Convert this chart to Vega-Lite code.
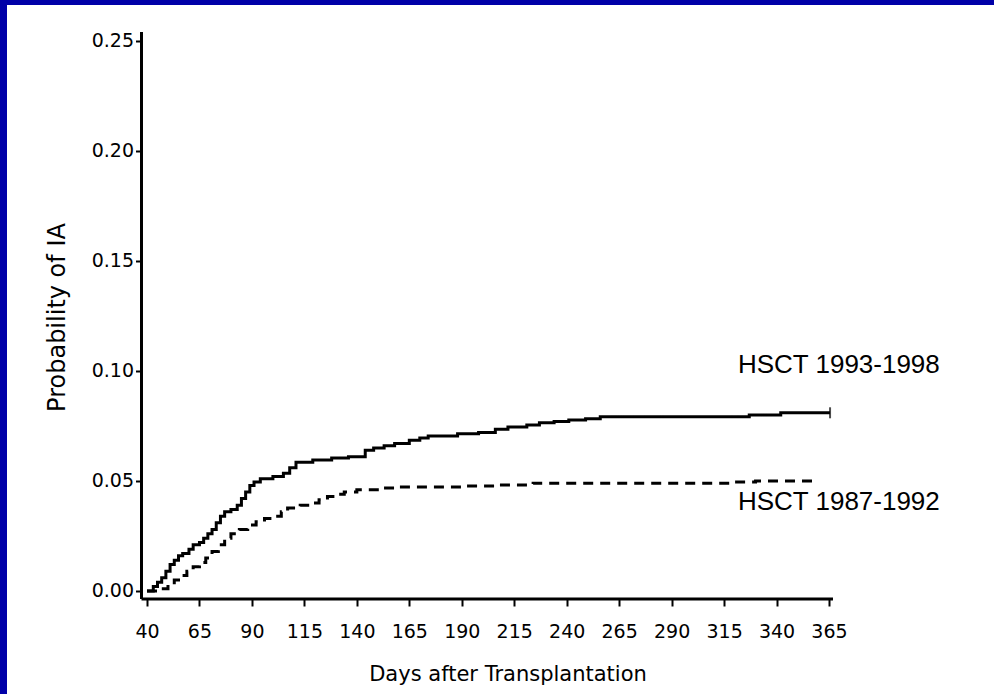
{
  "$schema": "https://vega.github.io/schema/vega-lite/v6.json",
  "width": 987,
  "height": 689,
  "autosize": {"type": "none"},
  "padding": {"left": 7, "top": 5, "right": 0, "bottom": 0},
  "background": "#0000A8",
  "config": {
    "view": {"fill": "white", "stroke": null},
    "axis": {
      "grid": false,
      "domain": false,
      "tickColor": "black",
      "tickWidth": 2,
      "labelColor": "black",
      "labelFont": "DejaVu Sans",
      "labelFontSize": 19,
      "labelOverlap": false,
      "labelFlush": false,
      "titleColor": "black",
      "titleFont": "DejaVu Sans",
      "titleFontSize": 21,
      "titleFontWeight": "normal"
    }
  },
  "datasets": {
    "km": [
      {"day": 40, "p": 0, "group": "HSCT 1993-1998"},
      {"day": 43, "p": 0.002, "group": "HSCT 1993-1998"},
      {"day": 45, "p": 0.004, "group": "HSCT 1993-1998"},
      {"day": 47, "p": 0.006, "group": "HSCT 1993-1998"},
      {"day": 49, "p": 0.009, "group": "HSCT 1993-1998"},
      {"day": 51, "p": 0.012, "group": "HSCT 1993-1998"},
      {"day": 53, "p": 0.014, "group": "HSCT 1993-1998"},
      {"day": 55, "p": 0.016, "group": "HSCT 1993-1998"},
      {"day": 57, "p": 0.017, "group": "HSCT 1993-1998"},
      {"day": 60, "p": 0.019, "group": "HSCT 1993-1998"},
      {"day": 62, "p": 0.021, "group": "HSCT 1993-1998"},
      {"day": 65, "p": 0.022, "group": "HSCT 1993-1998"},
      {"day": 67, "p": 0.024, "group": "HSCT 1993-1998"},
      {"day": 69, "p": 0.026, "group": "HSCT 1993-1998"},
      {"day": 71, "p": 0.028, "group": "HSCT 1993-1998"},
      {"day": 73, "p": 0.031, "group": "HSCT 1993-1998"},
      {"day": 75, "p": 0.034, "group": "HSCT 1993-1998"},
      {"day": 77, "p": 0.036, "group": "HSCT 1993-1998"},
      {"day": 80, "p": 0.037, "group": "HSCT 1993-1998"},
      {"day": 83, "p": 0.039, "group": "HSCT 1993-1998"},
      {"day": 85, "p": 0.042, "group": "HSCT 1993-1998"},
      {"day": 87, "p": 0.045, "group": "HSCT 1993-1998"},
      {"day": 89, "p": 0.048, "group": "HSCT 1993-1998"},
      {"day": 91, "p": 0.0495, "group": "HSCT 1993-1998"},
      {"day": 94, "p": 0.051, "group": "HSCT 1993-1998"},
      {"day": 100, "p": 0.052, "group": "HSCT 1993-1998"},
      {"day": 105, "p": 0.0535, "group": "HSCT 1993-1998"},
      {"day": 108, "p": 0.056, "group": "HSCT 1993-1998"},
      {"day": 111, "p": 0.0585, "group": "HSCT 1993-1998"},
      {"day": 119, "p": 0.0595, "group": "HSCT 1993-1998"},
      {"day": 128, "p": 0.0605, "group": "HSCT 1993-1998"},
      {"day": 136, "p": 0.061, "group": "HSCT 1993-1998"},
      {"day": 144, "p": 0.064, "group": "HSCT 1993-1998"},
      {"day": 148, "p": 0.065, "group": "HSCT 1993-1998"},
      {"day": 153, "p": 0.066, "group": "HSCT 1993-1998"},
      {"day": 158, "p": 0.067, "group": "HSCT 1993-1998"},
      {"day": 165, "p": 0.0685, "group": "HSCT 1993-1998"},
      {"day": 170, "p": 0.0695, "group": "HSCT 1993-1998"},
      {"day": 174, "p": 0.0705, "group": "HSCT 1993-1998"},
      {"day": 188, "p": 0.0715, "group": "HSCT 1993-1998"},
      {"day": 198, "p": 0.072, "group": "HSCT 1993-1998"},
      {"day": 206, "p": 0.0735, "group": "HSCT 1993-1998"},
      {"day": 212, "p": 0.0745, "group": "HSCT 1993-1998"},
      {"day": 221, "p": 0.0755, "group": "HSCT 1993-1998"},
      {"day": 227, "p": 0.0765, "group": "HSCT 1993-1998"},
      {"day": 234, "p": 0.077, "group": "HSCT 1993-1998"},
      {"day": 241, "p": 0.0777, "group": "HSCT 1993-1998"},
      {"day": 249, "p": 0.0783, "group": "HSCT 1993-1998"},
      {"day": 256, "p": 0.0792, "group": "HSCT 1993-1998"},
      {"day": 327, "p": 0.08, "group": "HSCT 1993-1998"},
      {"day": 342, "p": 0.081, "group": "HSCT 1993-1998"},
      {"day": 365.5, "p": 0.081, "group": "HSCT 1993-1998"},
      {"day": 40, "p": 0, "group": "HSCT 1987-1992"},
      {"day": 47, "p": 0.001, "group": "HSCT 1987-1992"},
      {"day": 50, "p": 0.003, "group": "HSCT 1987-1992"},
      {"day": 53, "p": 0.005, "group": "HSCT 1987-1992"},
      {"day": 56, "p": 0.007, "group": "HSCT 1987-1992"},
      {"day": 59, "p": 0.009, "group": "HSCT 1987-1992"},
      {"day": 62, "p": 0.011, "group": "HSCT 1987-1992"},
      {"day": 65, "p": 0.013, "group": "HSCT 1987-1992"},
      {"day": 68, "p": 0.015, "group": "HSCT 1987-1992"},
      {"day": 71, "p": 0.018, "group": "HSCT 1987-1992"},
      {"day": 74, "p": 0.021, "group": "HSCT 1987-1992"},
      {"day": 77, "p": 0.024, "group": "HSCT 1987-1992"},
      {"day": 80, "p": 0.026, "group": "HSCT 1987-1992"},
      {"day": 84, "p": 0.028, "group": "HSCT 1987-1992"},
      {"day": 88, "p": 0.03, "group": "HSCT 1987-1992"},
      {"day": 92, "p": 0.0315, "group": "HSCT 1987-1992"},
      {"day": 96, "p": 0.033, "group": "HSCT 1987-1992"},
      {"day": 100, "p": 0.034, "group": "HSCT 1987-1992"},
      {"day": 104, "p": 0.036, "group": "HSCT 1987-1992"},
      {"day": 107, "p": 0.0377, "group": "HSCT 1987-1992"},
      {"day": 113, "p": 0.039, "group": "HSCT 1987-1992"},
      {"day": 118, "p": 0.04, "group": "HSCT 1987-1992"},
      {"day": 122, "p": 0.0415, "group": "HSCT 1987-1992"},
      {"day": 126, "p": 0.043, "group": "HSCT 1987-1992"},
      {"day": 130, "p": 0.044, "group": "HSCT 1987-1992"},
      {"day": 134, "p": 0.045, "group": "HSCT 1987-1992"},
      {"day": 140, "p": 0.046, "group": "HSCT 1987-1992"},
      {"day": 152, "p": 0.0468, "group": "HSCT 1987-1992"},
      {"day": 160, "p": 0.0473, "group": "HSCT 1987-1992"},
      {"day": 190, "p": 0.0477, "group": "HSCT 1987-1992"},
      {"day": 208, "p": 0.0482, "group": "HSCT 1987-1992"},
      {"day": 224, "p": 0.049, "group": "HSCT 1987-1992"},
      {"day": 320, "p": 0.0495, "group": "HSCT 1987-1992"},
      {"day": 330, "p": 0.05, "group": "HSCT 1987-1992"},
      {"day": 360, "p": 0.05, "group": "HSCT 1987-1992"}
    ],
    "labels": [
      {"label": "HSCT 1993-1998", "day": 321.6, "p": 0.0991},
      {"label": "HSCT 1987-1992", "day": 321.6, "p": 0.0368}
    ],
    "censor": [
      {"day": 365.5, "p": 0.081}
    ]
  },
  "layer": [
    {
      "data": {"name": "km"},
      "mark": {"type": "line", "interpolate": "step-after", "strokeWidth": 3, "color": "black"},
      "encoding": {
        "x": {
          "field": "day", "type": "quantitative",
          "scale": {"domain": [-26.715, 443.63], "nice": false, "zero": false},
          "axis": {
            "title": "Days after Transplantation",
            "values": [40, 65, 90, 115, 140, 165, 190, 215, 240, 265, 290, 315, 340, 365],
            "offset": -95,
            "tickSize": 7,
            "labelPadding": 31,
            "labelBaseline": "alphabetic",
            "titleX": 500.5,
            "titleY": 81,
            "titleAlign": "center",
            "titleBaseline": "alphabetic"
          }
        },
        "y": {
          "field": "p", "type": "quantitative",
          "scale": {"domain": [-0.046818, 0.26636], "nice": false, "zero": false},
          "axis": {
            "title": "Probability of IA",
            "values": [0, 0.05, 0.1, 0.15, 0.2, 0.25],
            "format": ".2f",
            "offset": -134.5,
            "tickSize": 6,
            "labelPadding": 2,
            "titleFontSize": 24,
            "titleAngle": -90,
            "titleX": -77,
            "titleY": 312,
            "titleAlign": "center",
            "titleBaseline": "alphabetic"
          }
        },
        "strokeDash": {
          "field": "group", "type": "nominal",
          "scale": {"domain": ["HSCT 1993-1998", "HSCT 1987-1992"], "range": [[1, 0], [10, 7]]},
          "legend": null
        }
      }
    },
    {
      "data": {"name": "censor"},
      "mark": {"type": "tick", "orient": "vertical", "size": 11, "thickness": 2, "color": "black"},
      "encoding": {
        "x": {"field": "day", "type": "quantitative"},
        "y": {"field": "p", "type": "quantitative"}
      }
    },
    {
      "data": {"values": [{}]},
      "mark": {"type": "rule", "strokeWidth": 3, "color": "black"},
      "encoding": {
        "x": {"datum": 37.38, "type": "quantitative"},
        "x2": {"datum": 366.9},
        "y": {"datum": -0.00364, "type": "quantitative"}
      }
    },
    {
      "data": {"values": [{}]},
      "mark": {"type": "rule", "strokeWidth": 3, "color": "black"},
      "encoding": {
        "x": {"datum": 37.38, "type": "quantitative"},
        "y": {"datum": -0.00364, "type": "quantitative"},
        "y2": {"datum": 0.2541}
      }
    },
    {
      "data": {"name": "labels"},
      "mark": {"type": "text", "align": "left", "baseline": "alphabetic", "font": "Liberation Sans", "fontSize": 26, "color": "black"},
      "encoding": {
        "x": {"field": "day", "type": "quantitative"},
        "y": {"field": "p", "type": "quantitative"},
        "text": {"field": "label"}
      }
    }
  ]
}
